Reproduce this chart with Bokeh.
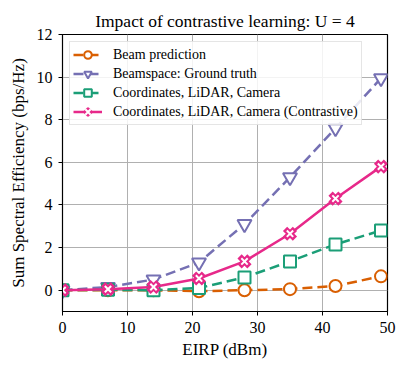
from bokeh.plotting import figure
from bokeh.models import Range1d, FixedTicker, Legend, LegendItem, Title
from bokeh.embed import file_html
from bokeh.resources import INLINE

eirp = [0, 7, 14, 21, 28, 35, 42, 49]
beam_pred = [0.0, 0.0, 0.0, -0.05, 0.0, 0.05, 0.2, 0.65]
beamspace_gt = [0.0, 0.15, 0.5, 1.3, 3.1, 5.3, 7.6, 9.95]
coords_lidar_cam = [0.0, 0.02, 0.0, 0.1, 0.6, 1.35, 2.15, 2.8]
contrastive = [0.0, 0.05, 0.15, 0.55, 1.35, 2.65, 4.3, 5.8]

labels = ["Beam prediction", "Beamspace: Ground truth",
          "Coordinates, LiDAR, Camera", "Coordinates, LiDAR, Camera (Contrastive)"]
title_text = "Impact of contrastive learning: U = 4"
x_ticks = [0, 10, 20, 30, 40, 50]
y_ticks = [0, 2, 4, 6, 8, 10, 12]

ORANGE = "#d95f02"
PURPLE = "#7570b3"
GREEN = "#1b9e77"
PINK = "#e7298a"
SERIF = "Liberation Serif"

p = figure(width=400, height=365, output_backend="svg", toolbar_location=None,
           x_range=Range1d(0, 50), y_range=Range1d(-1, 12),
           min_border_left=62, min_border_right=13, min_border_top=34, min_border_bottom=54)
p.background_fill_color = "white"
p.border_fill_color = "white"
p.outline_line_color = "black"
p.outline_line_width = 1.2
p.outline_line_alpha = 1

for ax in (p.xaxis[0], p.yaxis[0]):
    ax.major_label_text_font = SERIF
    ax.major_label_text_font_size = "16px"
    ax.major_label_text_color = "black"
    ax.axis_label_text_font = SERIF
    ax.axis_label_text_font_size = "17px"
    ax.axis_label_text_font_style = "normal"
    ax.axis_label_text_color = "black"
    ax.major_tick_out = 4
    ax.major_tick_in = 0
    ax.minor_tick_out = 0
    ax.minor_tick_in = 0
    ax.axis_line_color = "black"
    ax.major_tick_line_color = "black"

p.xaxis.ticker = FixedTicker(ticks=x_ticks)
p.yaxis.ticker = FixedTicker(ticks=y_ticks)
p.xaxis.axis_label = "EIRP (dBm)"
p.yaxis.axis_label = "Sum Spectral Efficiency (bps/Hz)"
p.xaxis.major_label_standoff = 6
p.yaxis.major_label_standoff = 6
p.xaxis.axis_label_standoff = 4
p.yaxis.axis_label_standoff = 6

p.xgrid.ticker = FixedTicker(ticks=x_ticks)
p.ygrid.ticker = FixedTicker(ticks=y_ticks)
p.grid.grid_line_color = "#b0b0b0"
p.grid.grid_line_width = 1

DASH = "10 5"
LW = 2.5

l1 = p.line(eirp, beam_pred, color=ORANGE, line_width=LW, line_dash=DASH)
m1 = p.scatter(eirp, beam_pred, marker="circle", size=12, fill_color="white",
               line_color=ORANGE, line_width=2)

l2 = p.line(eirp, beamspace_gt, color=PURPLE, line_width=LW, line_dash=DASH)
m2 = p.scatter(eirp, beamspace_gt, marker="inverted_triangle", size=14, fill_color="white",
               line_color=PURPLE, line_width=2)

l3 = p.line(eirp, coords_lidar_cam, color=GREEN, line_width=LW, line_dash=DASH)
m3 = p.scatter(eirp, coords_lidar_cam, marker="square", size=12, fill_color="white",
               line_color=GREEN, line_width=2)

l4 = p.line(eirp, contrastive, color=PINK, line_width=LW)
m4a = p.scatter(eirp, contrastive, marker="x", size=14, line_color=PINK, line_width=6)
m4b = p.scatter(eirp, contrastive, marker="x", size=9, line_color="white", line_width=2)

legend = Legend(items=[
    LegendItem(label=labels[0], renderers=[l1, m1]),
    LegendItem(label=labels[1], renderers=[l2, m2]),
    LegendItem(label=labels[2], renderers=[l3, m3]),
    LegendItem(label=labels[3], renderers=[l4, m4a, m4b]),
], location="top_left")
legend.label_text_font = SERIF
legend.label_text_font_size = "14px"
legend.label_text_color = "black"
legend.glyph_width = 29
legend.glyph_height = 19
legend.label_height = 19
legend.label_standoff = 11
legend.spacing = 0
legend.padding = 3
legend.margin = 7
legend.border_line_color = "#cccccc"
legend.border_line_width = 1
legend.background_fill_alpha = 0.85
p.add_layout(legend)

p.add_layout(Title(text=title_text, align="center",
                   standoff=8, text_font=SERIF, text_font_size="17.5px",
                   text_font_style="normal", text_color="black"), "above")

open("out.html", "w").write(file_html(p, INLINE))
